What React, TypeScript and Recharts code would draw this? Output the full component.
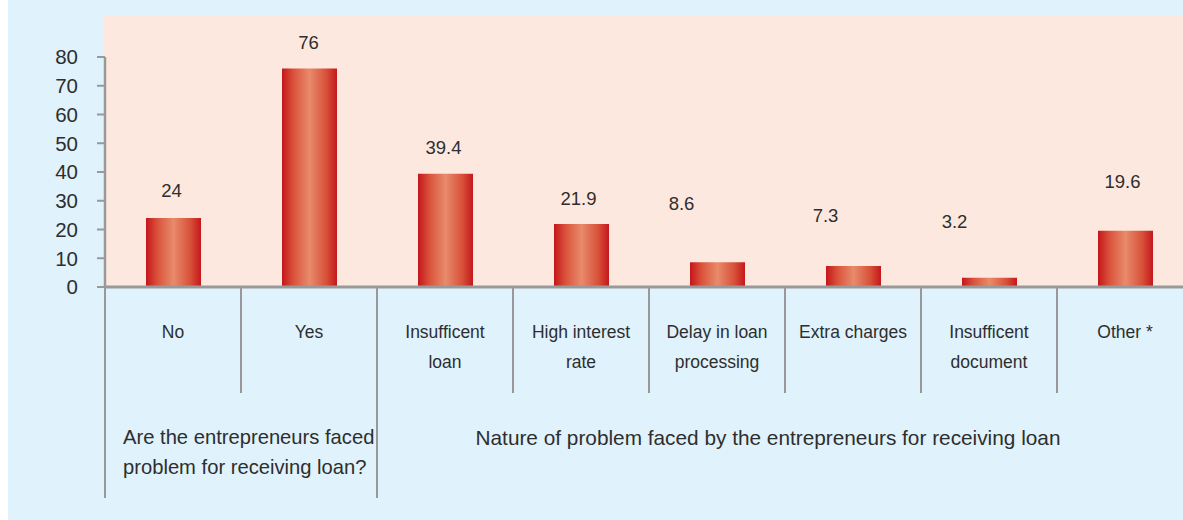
import React from 'react';
import { BarChart, Bar, XAxis, YAxis, LabelList } from 'recharts';

const categories = [
  'No',
  'Yes',
  'Insufficent loan',
  'High interest rate',
  'Delay in loan processing',
  'Extra charges',
  'Insufficent document',
  'Other *',
];
const values = [24, 76, 39.4, 21.9, 8.6, 7.3, 3.2, 19.6];
const tickLines = [
  ['No'],
  ['Yes'],
  ['Insufficent', 'loan'],
  ['High interest', 'rate'],
  ['Delay in loan', 'processing'],
  ['Extra charges'],
  ['Insufficent', 'document'],
  ['Other *'],
];
const yTicks = [0, 10, 20, 30, 40, 50, 60, 70, 80];
const groupLabels = [
  ['Are the entrepreneurs faced', 'problem for receiving loan?'],
  ['Nature of problem faced by the entrepreneurs for receiving loan'],
];
const groupStart = [0, 2];
const groupSpan = [2, 6];

// hand-moved value labels in the original (offset from bar centre / bar top)
const labelDx = [-2, -1, -2, -3, -36, -28, -35, -3];
const labelGap = [28, 26, 26, 26, 59, 51, 56, 49];

const data = categories.map((name, i) => ({ name, value: values[i] }));

const FONT = "'Liberation Sans', Arial, sans-serif";
const TEXT = '#2e2e2e';
const AXIS = '#999999';

const CHART_W = 1200;
const CHART_H = 520;
const MARGIN = { top: 57, right: 15, bottom: 0, left: 37 };
const Y_W = 60;
const PLOT_W = CHART_W - MARGIN.left - MARGIN.right - Y_W;
const BAND = PLOT_W / categories.length;

const CategoryTick = (props: any) => {
  const { x, y, payload } = props;
  const i = categories.indexOf(payload.value);
  const left = x - BAND / 2;
  const gi = groupStart.indexOf(i);
  const long = gi >= 0;
  return (
    <g fontFamily={FONT} fill={TEXT}>
      <line x1={left} x2={left} y1={y} y2={y + (long ? 211 : 106)} stroke={AXIS} strokeWidth={2} />
      {tickLines[i].map((t, k) => (
        <text key={k} x={x} y={y + 45 + k * 30} textAnchor="middle" dominantBaseline="central" fontSize={17.5}>
          {t}
        </text>
      ))}
      {gi === 0 &&
        groupLabels[0].map((t, k) => (
          <text key={'g' + k} x={left + 18} y={y + 150 + k * 30} textAnchor="start" dominantBaseline="central" fontSize={20.2}>
            {t}
          </text>
        ))}
      {gi === 1 &&
        groupLabels[1].map((t, k) => (
          <text
            key={'g' + k}
            x={left + (groupSpan[1] * BAND) / 2 - 17}
            y={y + 150 + k * 30}
            textAnchor="middle"
            dominantBaseline="central"
            fontSize={20.8}
          >
            {t}
          </text>
        ))}
    </g>
  );
};

const ValueLabel = (props: any) => {
  const { x, y, width, value, index } = props;
  return (
    <text
      x={x + width / 2 + labelDx[index]}
      y={y - labelGap[index]}
      textAnchor="middle"
      dominantBaseline="central"
      fontFamily={FONT}
      fontSize={18.5}
      fill={TEXT}
    >
      {value}
    </text>
  );
};

export default function App() {
  return (
    <div
      style={{
        position: 'absolute',
        left: 8,
        top: 0,
        width: 1175,
        height: 520,
        background: '#e0f2fc',
        overflow: 'hidden',
      }}
    >
      <div
        style={{
          position: 'absolute',
          left: 96,
          top: 16,
          width: 1079,
          height: 271,
          background: '#fde8df',
        }}
      />
      <div style={{ position: 'absolute', left: 0, top: 0 }}>
        <BarChart width={CHART_W} height={CHART_H} data={data} margin={MARGIN} barSize={55}>
          <defs>
            <linearGradient id="barGrad" x1="0" y1="0" x2="1" y2="0">
              <stop offset="0%" stopColor="#c4161b" />
              <stop offset="20%" stopColor="#d9513a" />
              <stop offset="50%" stopColor="#e88b6b" />
              <stop offset="80%" stopColor="#d8523a" />
              <stop offset="100%" stopColor="#c4181b" />
            </linearGradient>
          </defs>
          <YAxis
            width={Y_W}
            domain={[0, 80]}
            ticks={yTicks}
            interval={0}
            axisLine={{ stroke: AXIS, strokeWidth: 2.5 }}
            tickLine={{ stroke: AXIS, strokeWidth: 2 }}
            tickSize={8}
            tickMargin={19}
            tick={{ fontFamily: FONT, fontSize: 20.5, fill: TEXT }}
          />
          <XAxis
            dataKey="name"
            height={233}
            interval={0}
            axisLine={{ stroke: AXIS, strokeWidth: 3 }}
            tickLine={false}
            tickSize={0}
            tickMargin={0}
            tick={<CategoryTick />}
          />
          <Bar dataKey="value" fill="url(#barGrad)" isAnimationActive={false}>
            <LabelList dataKey="value" content={<ValueLabel />} />
          </Bar>
        </BarChart>
      </div>
    </div>
  );
}
